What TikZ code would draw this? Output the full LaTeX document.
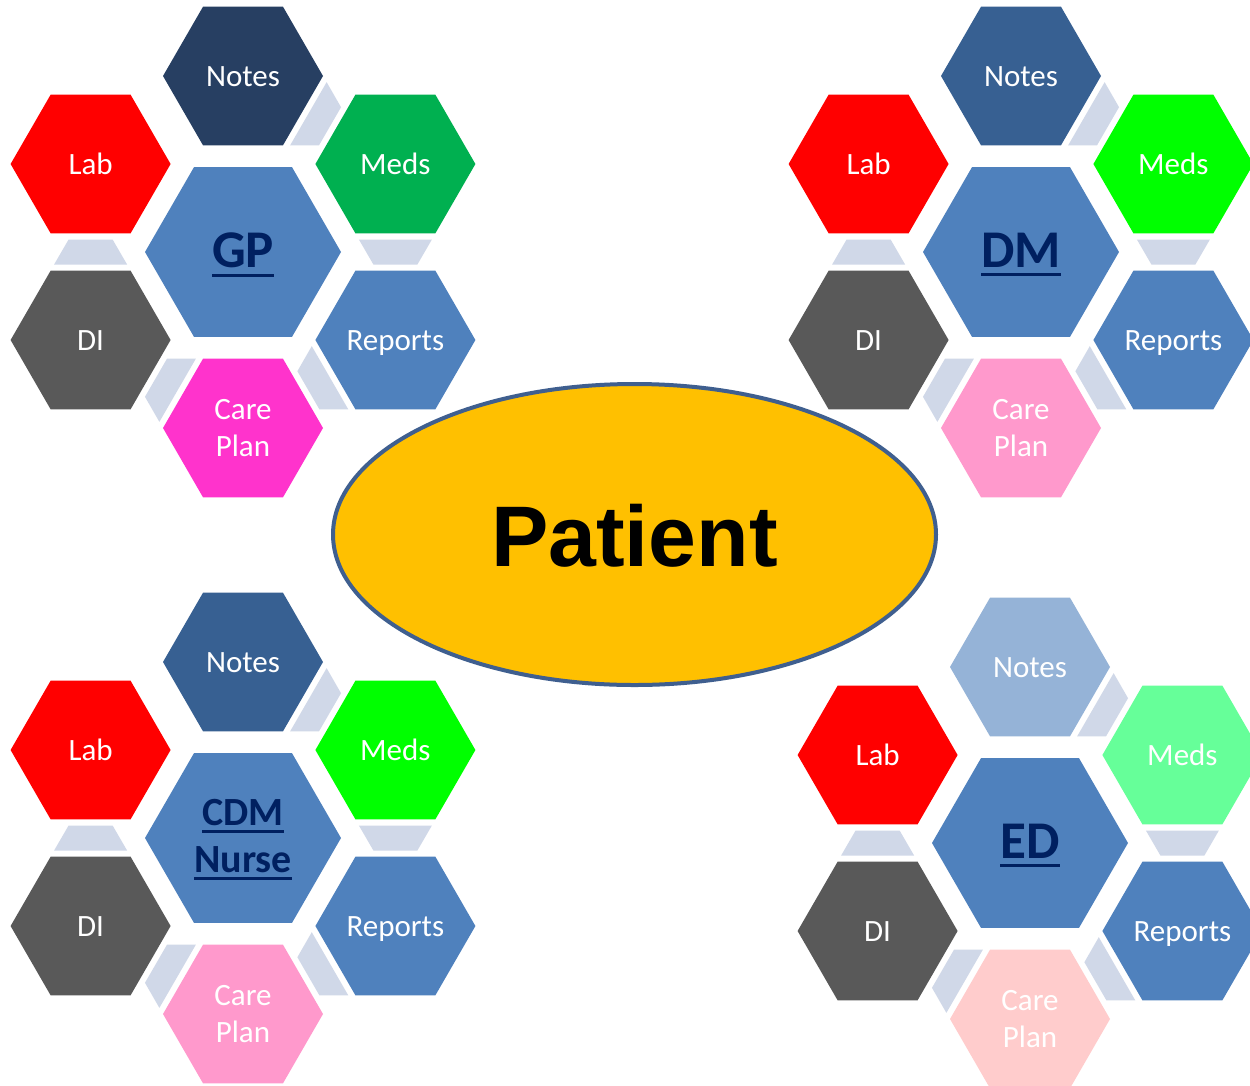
\documentclass[tikz,border=0pt]{standalone}
\usepackage{fontspec}
\setmainfont{Carlito}
\newfontfamily\patientfont{Liberation Sans}
\usetikzlibrary{shapes.geometric,calc}

% palette
\definecolor{labred}{RGB}{255,0,0}
\definecolor{digray}{RGB}{89,89,89}
\definecolor{hexblue}{RGB}{79,129,189}
\definecolor{navytext}{RGB}{0,32,96}
\definecolor{linkgray}{RGB}{208,216,232}
\definecolor{notesdark}{RGB}{39,63,98}
\definecolor{notesmid}{RGB}{55,96,146}
\definecolor{noteslight}{RGB}{149,179,215}
\definecolor{medsgreen}{RGB}{0,176,80}
\definecolor{medslime}{RGB}{0,255,0}
\definecolor{medsmint}{RGB}{102,255,153}
\definecolor{caremagenta}{RGB}{255,51,204}
\definecolor{carepink}{RGB}{255,153,204}
\definecolor{careblush}{RGB}{255,204,204}
\definecolor{patientfill}{RGB}{255,192,0}
\definecolor{patientline}{RGB}{63,95,143}

% underlined heading text inside the core hexagons
\newcommand\titleline[1]{\vtop{\hbox{#1}\kern0.12em\hrule height 2.8pt}}

\tikzset{
  outerhex/.style={regular polygon, regular polygon sides=6, minimum size=160pt,
    inner sep=0pt, outer sep=0pt, text=white, align=center,
    font=\fontsize{31}{37}\selectfont, text height=20pt, text depth=0pt},
  twoline/.style={text height=57pt, text depth=0pt},
  corehex/.style={regular polygon, regular polygon sides=6, minimum size=196pt,
    inner sep=0pt, outer sep=0pt, fill=hexblue, text=navytext, align=center},
  bigtitle/.style={font=\fontsize{53}{62}\selectfont\bfseries, text height=30pt, text depth=0pt},
  smalltitle/.style={font=\fontsize{40}{47}\selectfont\bfseries, text height=68pt, text depth=0pt},
  linkpiece/.style={fill=linkgray},
  patientnode/.style={ellipse, minimum width=603pt, minimum height=301pt, inner sep=0pt,
    fill=patientfill, draw=patientline, line width=4pt,
    font=\patientfont\fontsize{86}{86}\selectfont\bfseries, text height=64pt, text depth=0pt}
}

% trapezoid joining two neighbouring hexagons, wide end at the first one
\newcommand\hexlink[2]{%
  \pgfmathanglebetweenpoints{\pgfpointanchor{#1}{center}}{\pgfpointanchor{#2}{center}}%
  \edef\linkangle{\pgfmathresult}%
  \fill[linkpiece, shift={($(#1)!0.5!(#2)$)}, rotate=\linkangle]
    (-12.5,-36.5) -- (-12.5,36.5) -- (12.5,22) -- (12.5,-22) -- cycle;}

% one cluster: core hexagon ringed by six outer hexagons
% #1 name, #2 centre, #3 title style, #4 title, #5 notes, #6 meds, #7 care plan colour
\newcommand\hexcluster[7]{%
  \node[corehex, #3] (#1) at (#2) {#4};
  \node[outerhex, fill=#5] (#1-notes) at ($(#1)+(0,-176)$) {Notes};
  \node[outerhex, fill=#6] (#1-meds) at ($(#1)+(152.4,-88)$) {Meds};
  \node[outerhex, fill=hexblue] (#1-reports) at ($(#1)+(152.4,88)$) {Reports};
  \node[outerhex, twoline, fill=#7] (#1-care) at ($(#1)+(0,176)$) {Care\\Plan};
  \node[outerhex, fill=digray] (#1-di) at ($(#1)+(-152.4,88)$) {DI};
  \node[outerhex, fill=labred] (#1-lab) at ($(#1)+(-152.4,-88)$) {Lab};
  \hexlink{#1-notes}{#1-meds}
  \hexlink{#1-meds}{#1-reports}
  \hexlink{#1-reports}{#1-care}
  \hexlink{#1-care}{#1-di}
  \hexlink{#1-di}{#1-lab}
}

\begin{document}
\begin{tikzpicture}[x=1pt, y=-1pt]
  \useasboundingbox (0,0) rectangle (1250,1085);
  \fill[white] (0,0) rectangle (1250,1085);
  \clip (0,0) rectangle (1250,1085);

  \hexcluster{gp}{243,252}{bigtitle}{\titleline{GP}}{notesdark}{medsgreen}{caremagenta}
  \hexcluster{dm}{1021,252}{bigtitle}{\titleline{DM}}{notesmid}{medslime}{carepink}
  \hexcluster{cdm}{243,838}{smalltitle}{\titleline{CDM}\\\titleline{Nurse}}{notesmid}{medslime}{carepink}
  \hexcluster{ed}{1030,843}{bigtitle}{\titleline{ED}}{noteslight}{medsmint}{careblush}

  \node[patientnode] (patient) at (634.5,534.5) {Patient};
\end{tikzpicture}
\end{document}
